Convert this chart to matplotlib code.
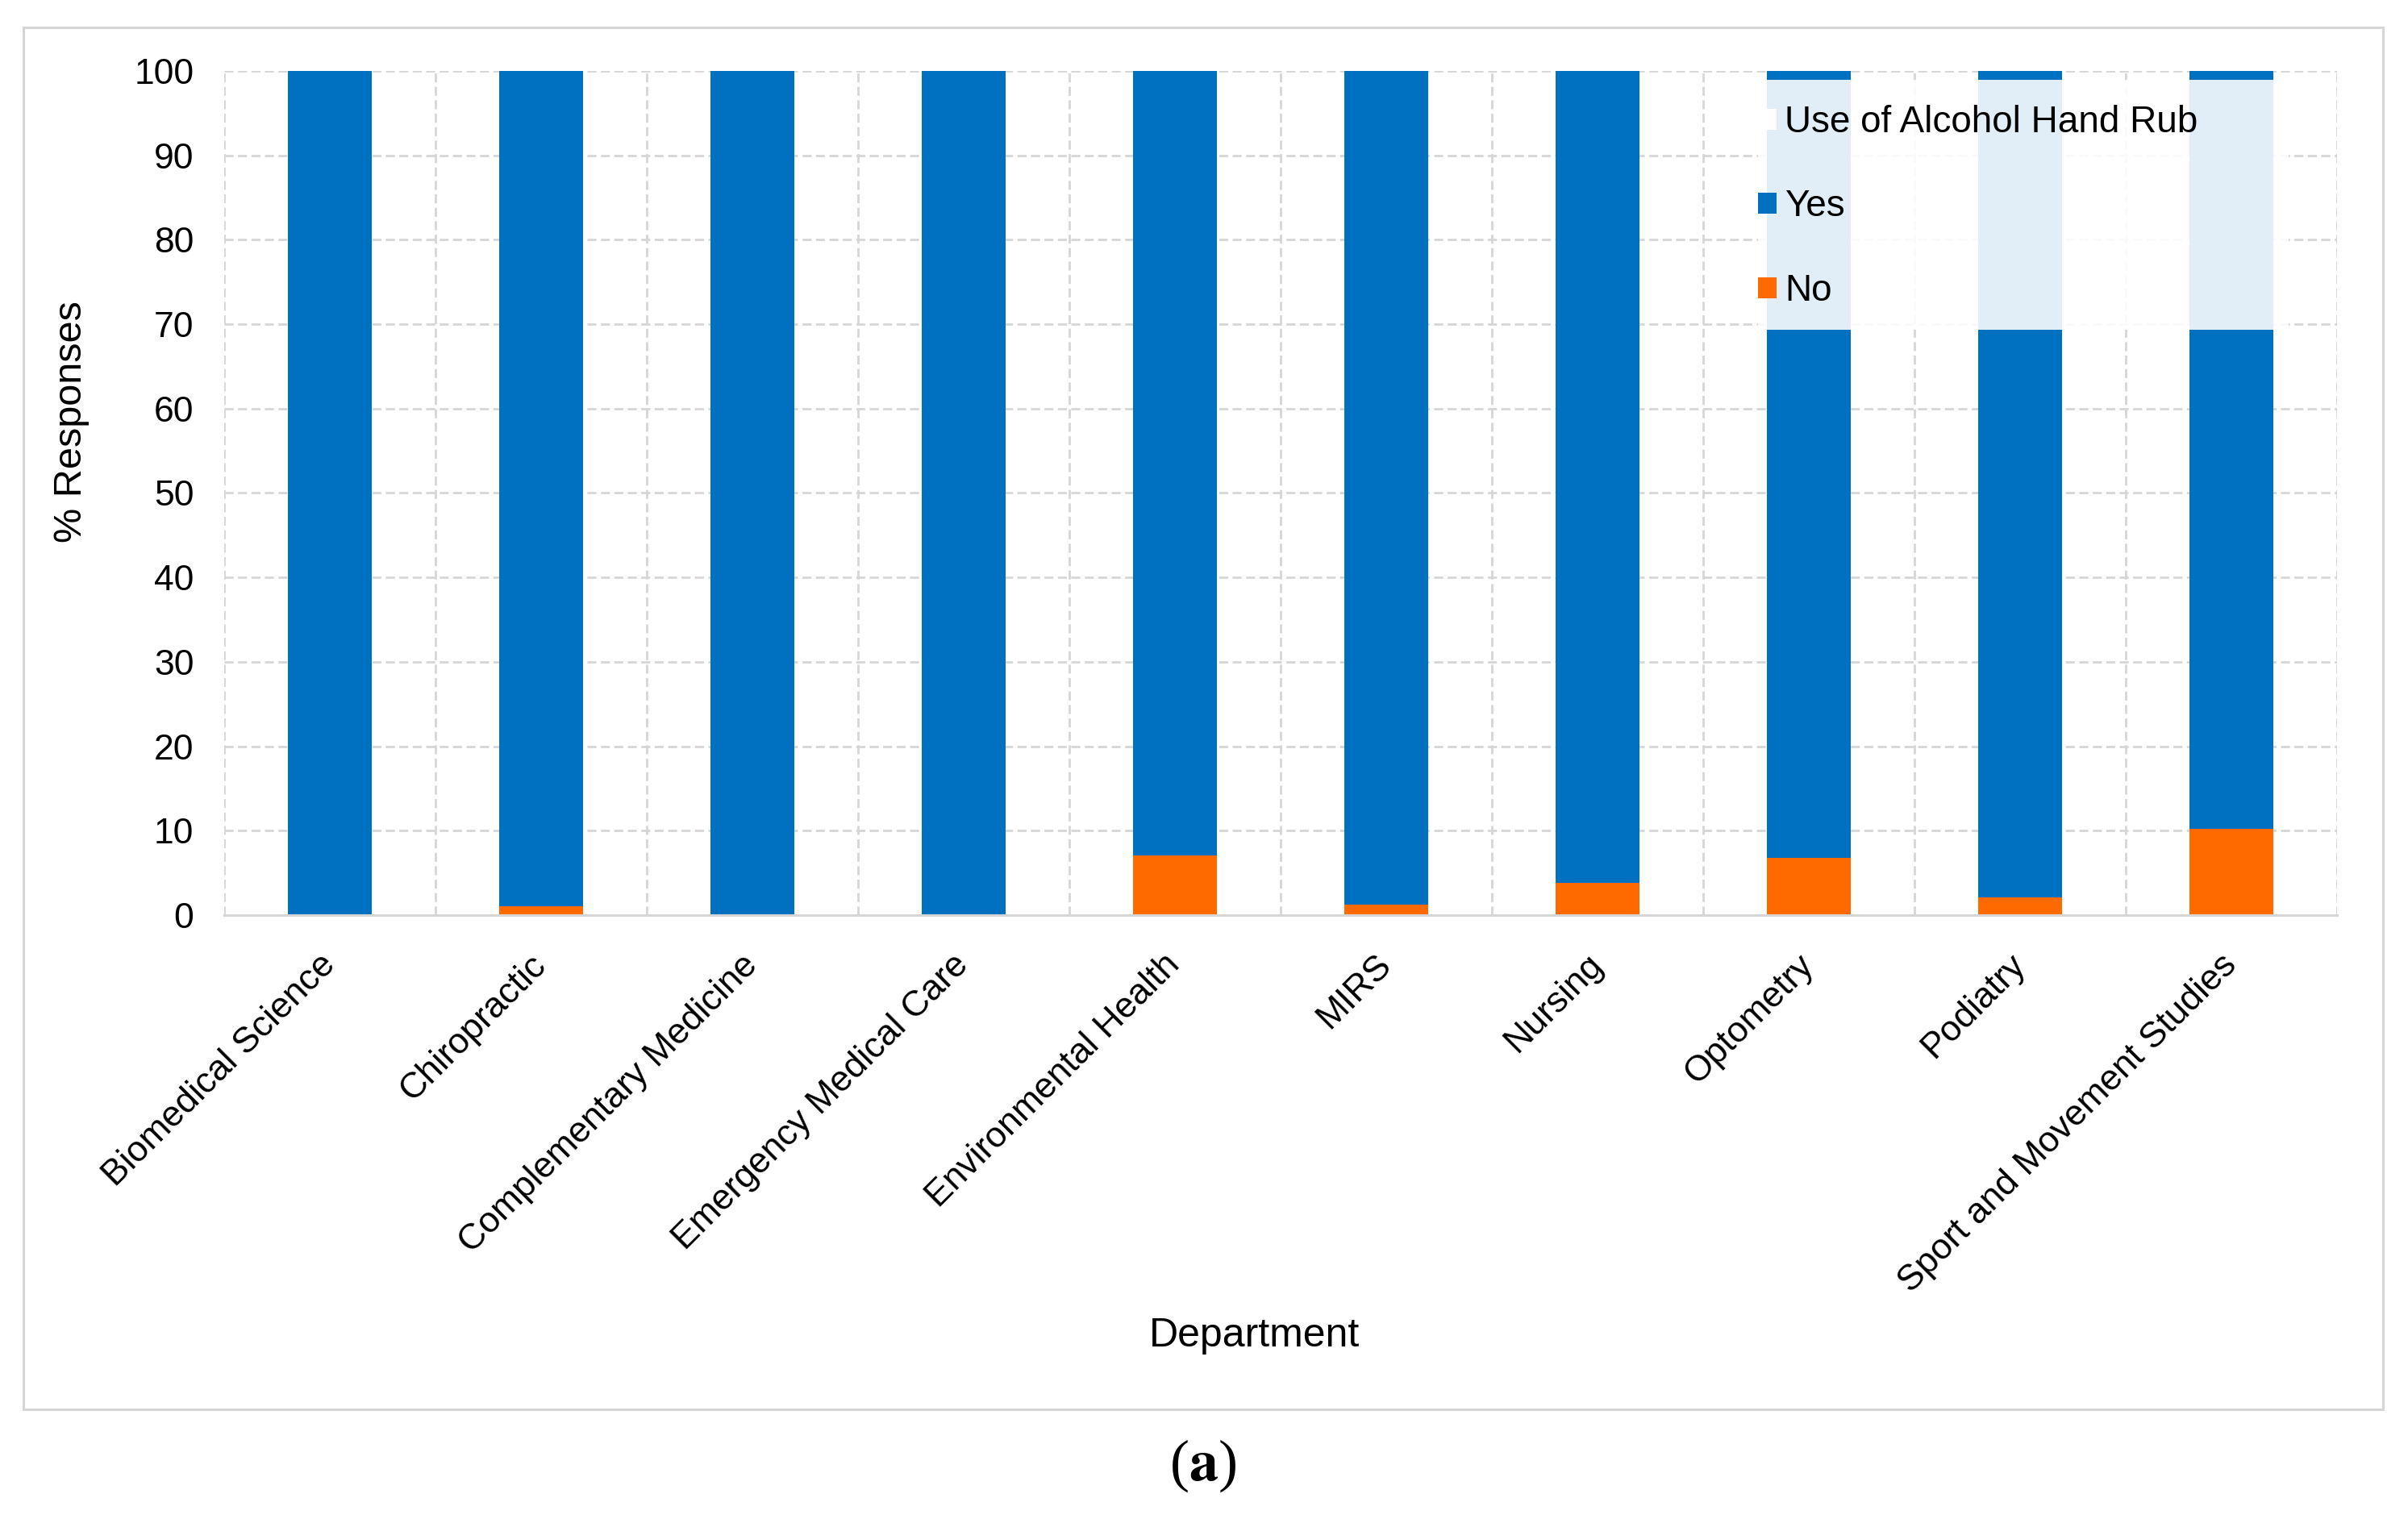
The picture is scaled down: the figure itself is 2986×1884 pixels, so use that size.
import numpy as np
import matplotlib.pyplot as plt
from matplotlib.patches import Rectangle, Patch

plt.rcParams['font.family'] = ['Liberation Sans', 'DejaVu Sans']
plt.rcParams['mathtext.fontset'] = 'stix'

departments = ['Biomedical Science', 'Chiropractic', 'Complementary Medicine',
               'Emergency Medical Care', 'Environmental Health', 'MIRS',
               'Nursing', 'Optometry', 'Podiatry', 'Sport and Movement Studies']
no_pct = [0, 1.0, 0, 0, 7.1, 1.2, 3.8, 6.8, 2.1, 10.2]
yes_pct = [100 - v for v in no_pct]

blue = '#0070C0'
orange = '#FF6A00'
grid_col = '#D6D6D6'

fig = plt.figure(figsize=(29.86, 18.84), dpi=100)
ax = fig.add_axes([0.0931, 0.3976, 0.8774, 0.5557])

x = np.arange(len(departments))
ax.bar(x, no_pct, width=0.4, color=orange, zorder=2)
ax.bar(x, yes_pct, width=0.4, bottom=no_pct, color=blue, zorder=2)

ax.set_xlim(-0.5, len(departments) - 0.5)
ax.set_ylim(0, 100)
ax.set_yticks(np.arange(0, 101, 10))
ax.set_xticks(x)
ax.set_xticklabels(departments)
ax.set_xticks(np.arange(-0.5, len(departments), 1), minor=True)

ax.set_axisbelow(True)
ax.grid(axis='y', which='major', color=grid_col, linestyle=(0, (4, 2)), linewidth=2.0)
ax.grid(axis='x', which='minor', color=grid_col, linestyle=(0, (4, 2)), linewidth=2.0)
ax.grid(axis='x', which='major', visible=False)

for s in ['top', 'right', 'left']:
    ax.spines[s].set_visible(False)
ax.spines['bottom'].set_color(grid_col)
ax.spines['bottom'].set_linewidth(2.2)

ax.tick_params(axis='both', which='both', length=0)
ax.tick_params(axis='y', labelsize=32, pad=27)
ax.tick_params(axis='x', labelsize=32, pad=40)
plt.setp(ax.get_xticklabels(), rotation=45, ha='right', va='center',
         rotation_mode='anchor')

# semi-transparent legend backdrop, as in the original
ax.add_patch(Rectangle((6.76, 69.3), 2.51, 29.6, facecolor='white',
                       alpha=0.89, edgecolor='none', zorder=3))
handles = [Patch(facecolor='white', edgecolor='none'),
           Patch(facecolor=blue, edgecolor='none'),
           Patch(facecolor=orange, edgecolor='none')]
labels = ['Use of Alcohol Hand Rub', 'Yes', 'No']
leg = ax.legend(handles, labels, loc='upper left', bbox_to_anchor=(6.76, 96.0),
                bbox_transform=ax.transData, frameon=False, fontsize=33,
                handlelength=0.5, handleheight=0.5, handletextpad=0.22,
                labelspacing=1.32, borderpad=0, borderaxespad=0)
leg.set_zorder(5)

fig.text(0.0295, 0.7224, '% Responses', rotation=90, ha='center', va='center',
         fontsize=35)
fig.text(0.521, 0.1205, 'Department', ha='center', va='center', fontsize=36)

fig.add_artist(Rectangle((29 / 2986, 1 - 1748 / 1884), 2926 / 2986, 1714 / 1884,
                         transform=fig.transFigure, fill=False,
                         edgecolor=grid_col, linewidth=2.2))
fig.text(0.4995, 0.035, r'($\mathbf{a}$)', ha='center', va='center',
         fontsize=52, family='Liberation Serif')

fig.savefig('out.png', dpi=100)
